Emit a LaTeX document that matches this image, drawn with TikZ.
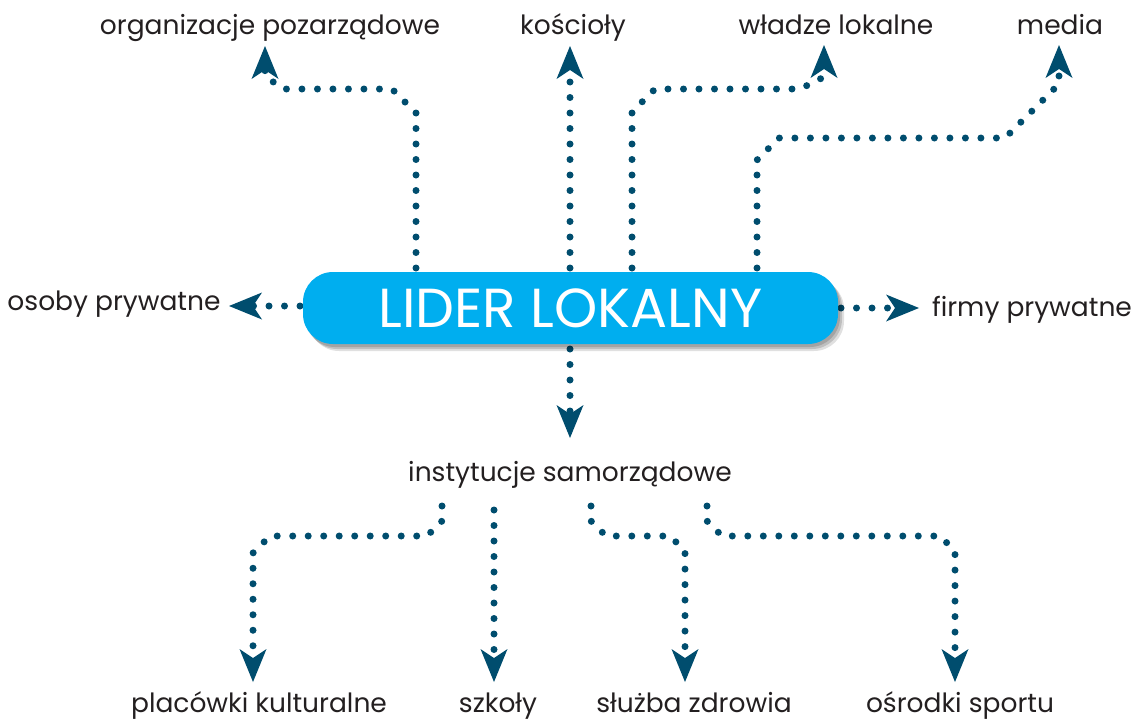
\documentclass[tikz,border=0pt]{standalone}
\usepackage{fontspec}
\setmainfont{Poppins}
\usetikzlibrary{arrows.meta,shadows}
\definecolor{lineC}{HTML}{004D6E}
\definecolor{boxC}{HTML}{00AEEF}
\definecolor{txtC}{HTML}{231F20}
\tikzset{
  conn/.style={draw=lineC,line width=7pt,line cap=round,dash pattern=on 0pt off 15.5pt,
    -{Stealth[length=33pt,width=27pt,inset=9pt,line width=0pt 0 0]}},
  lbl/.style={text=txtC,font=\fontsize{26.5}{30}\selectfont,inner sep=0pt,anchor=base},
  leader/.style={fill=boxC,rounded corners=30pt,minimum width=535pt,minimum height=72pt,
    text=white,font=\fontsize{55}{60}\selectfont,inner sep=0pt,
    drop shadow={shadow xshift=6pt,shadow yshift=-7pt,opacity=0.12,fill=black},
    drop shadow={shadow xshift=4pt,shadow yshift=-5pt,opacity=0.15,fill=black},
    drop shadow={shadow xshift=2pt,shadow yshift=-3pt,opacity=0.15,fill=black}}
}
\begin{document}
\begin{tikzpicture}[x=1pt,y=-1pt]
\useasboundingbox (0,0) rectangle (1134,720);
% labels
\node[lbl] (org) at (270,34) {organizacje pozarządowe};
\node[lbl] (kos) at (573,34) {kościoły};
\node[lbl] (wla) at (836,34) {władze lokalne};
\node[lbl] (med) at (1060,34) {media};
\node[lbl] (oso) at (114,310) {osoby prywatne};
\node[lbl] (fir) at (1032,316) {firmy prywatne};
\node[lbl] (ins) at (570,481) {instytucje samorządowe};
\node[lbl] (pla) at (259,712) {placówki kulturalne};
\node[lbl] (szk) at (498,712) {szkoły};
\node[lbl] (slu) at (694,712) {służba zdrowia};
\node[lbl] (osr) at (960,712) {ośrodki sportu};
% connectors
\draw[conn] (416,268) -- (416,113) -- (392,89) -- (283,89) -- (265,76) -- (265,46);
\draw[conn] (570,268) -- (570,46);
\draw[conn] (632,268) -- (632,112) -- (655,89) -- (800,89) -- (824,77) -- (824,45);
\draw[conn] (757,268) -- (757,160) -- (779,138) -- (1005,138) -- (1059,84) -- (1059,45);
\draw[conn] (300,306) -- (229,306);
\draw[conn] (841,308) -- (919,308);
\draw[conn] (570,349) -- (570,438);
\draw[conn] (442,506) -- (442,521) -- (427,536) -- (270,536) -- (253,553) -- (253,682);
\draw[conn] (494,510) -- (494,682);
\draw[conn] (591,506) -- (591,521) -- (606,536) -- (670,536) -- (685,551) -- (685,682);
\draw[conn] (707,506) -- (707,521) -- (722,536) -- (940,536) -- (955,551) -- (955,682);
% central box
\node[leader] (lider) at (570.5,308) {LIDER LOKALNY};
\end{tikzpicture}
\end{document}
